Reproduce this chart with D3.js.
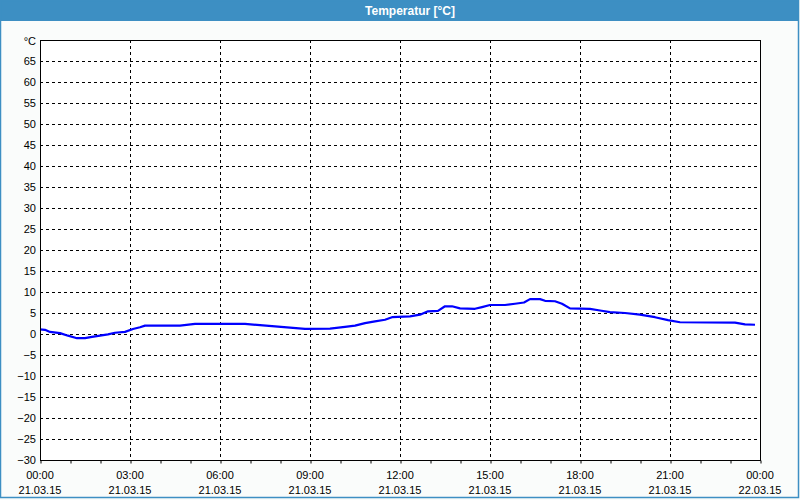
<!DOCTYPE html>
<html><head><meta charset="utf-8">
<script src="https://cdn.jsdelivr.net/npm/d3@7"></script>
<style>
html,body{margin:0;padding:0;background:#fafcfb;}
svg{display:block;}
text{font-family:"Liberation Sans",Arial,sans-serif;}
</style></head>
<body><svg id="c" width="800" height="500"></svg>
<script>
const title = "Temperatur [°C]";
const times = ["00:00","00:10","00:20","00:40","00:56","01:14","01:30","01:44","02:00","02:16","02:30","02:50","03:06","03:20","03:30","04:40","05:10","06:50","07:20","07:50","08:20","08:50","09:40","10:10","10:30","10:50","11:10","11:30","11:44","12:20","12:40","12:56","13:16","13:30","13:44","14:00","14:30","14:44","15:00","15:30","15:50","16:08","16:20","16:40","16:50","17:10","17:24","17:40","18:20","18:40","19:00","19:30","20:00","20:30","20:56","21:20","23:10","23:30","23:50"];
const temps = [1.1,1.0,0.5,0.2,-0.4,-1.0,-1.0,-0.7,-0.4,-0.1,0.3,0.5,1.2,1.6,2.0,2.0,2.4,2.4,2.1,1.8,1.5,1.2,1.3,1.7,2.0,2.6,3.0,3.4,4.0,4.2,4.6,5.4,5.5,6.6,6.6,6.1,6.0,6.4,6.9,6.9,7.2,7.5,8.3,8.3,7.9,7.8,7.2,6.1,6.0,5.6,5.2,5.0,4.6,4.0,3.3,2.8,2.7,2.3,2.2];
const yTicks = [-30,-25,-20,-15,-10,-5,0,5,10,15,20,25,30,35,40,45,50,55,60,65];
const yTopLabel = "°C";
const xTickHours = [0,3,6,9,12,15,18,21,24];
const xTimeLabels = ["00:00","03:00","06:00","09:00","12:00","15:00","18:00","21:00","00:00"];
const xDateLabels = ["21.03.15","21.03.15","21.03.15","21.03.15","21.03.15","21.03.15","21.03.15","21.03.15","22.03.15"];

const svg = d3.select("#c");
const W = 800, H = 500;
const L = 40, R = 760, T = 40, B = 460;

// window frame
svg.append("rect").attr("x",0).attr("y",0).attr("width",W).attr("height",H).attr("fill","#fafcfb");
svg.append("rect").attr("x",0).attr("y",0).attr("width",798).attr("height",21).attr("fill","#3d8fc3");
svg.append("rect").attr("x",0.5).attr("y",0.5).attr("width",798).attr("height",497).attr("fill","none").attr("stroke","#3d8fc3").attr("stroke-width",1.5);
svg.append("text").attr("x",410).attr("y",15).attr("text-anchor","middle").attr("fill","#fff")
  .attr("font-weight","bold").attr("font-size","12px").text(title);

const x = d3.scaleLinear().domain([0,24]).range([L,R]);
const y = d3.scaleLinear().domain([-30,70]).range([B,T]);

const parse = s => { const [h,m] = s.split(":").map(Number); return h + m/60; };
const data = times.map((t,i)=>({h:parse(t), v:temps[i]}));

svg.append("rect").attr("x",L).attr("y",T).attr("width",R-L).attr("height",B-T).attr("fill","#fff");

// horizontal grid
svg.append("g").selectAll("line").data(yTicks.filter(d=>d>-30)).join("line")
  .attr("x1",L).attr("x2",R).attr("y1",d=>Math.round(y(d))+0.5).attr("y2",d=>Math.round(y(d))+0.5)
  .attr("stroke","#000").attr("stroke-dasharray","3,3").attr("stroke-width",1);
// vertical grid
svg.append("g").selectAll("line").data(xTickHours.filter(d=>d>0&&d<24)).join("line")
  .attr("x1",d=>Math.round(x(d))+0.5).attr("x2",d=>Math.round(x(d))+0.5).attr("y1",T).attr("y2",B)
  .attr("stroke","#000").attr("stroke-dasharray","3,3").attr("stroke-width",1);

// x axis ticks (hourly)
const xAxis = d3.axisBottom(x).tickValues(d3.range(0,25)).tickSize(3).tickFormat("");
const gx = svg.append("g").attr("transform",`translate(0.5,${B+0.5})`).call(xAxis);
gx.select(".domain").remove();
gx.selectAll("line").attr("stroke","#000");

// y labels
const yAxis = d3.axisLeft(y).tickValues(yTicks).tickSize(0).tickPadding(4);
const gy = svg.append("g").attr("transform",`translate(${L},0)`).call(yAxis);
gy.select(".domain").remove();
gy.selectAll("text").attr("font-size","11px").attr("fill","#000").attr("font-family","Liberation Sans, Arial, sans-serif");
svg.append("text").attr("x",L-4).attr("y",y(70)+5).attr("text-anchor","end").attr("font-size","11px").text(yTopLabel);

// x labels
svg.append("g").selectAll("text").data(xTickHours).join("text")
  .attr("x",d=>x(d)).attr("y",479).attr("text-anchor","middle").attr("font-size","11px").text((d,i)=>xTimeLabels[i]);
svg.append("g").selectAll("text").data(xTickHours).join("text")
  .attr("x",d=>x(d)).attr("y",494).attr("text-anchor","middle").attr("font-size","11px").text((d,i)=>xDateLabels[i]);

// line
svg.append("path").datum(data)
  .attr("d", d3.line().x(d=>x(d.h)).y(d=>y(d.v)))
  .attr("fill","none").attr("stroke","#0000ff").attr("stroke-width",2.2).attr("stroke-linejoin","round");

// plot border
svg.append("rect").attr("x",L+0.5).attr("y",T+0.5).attr("width",R-L).attr("height",B-T)
  .attr("fill","none").attr("stroke","#000").attr("stroke-width",1);
</script></body></html>
